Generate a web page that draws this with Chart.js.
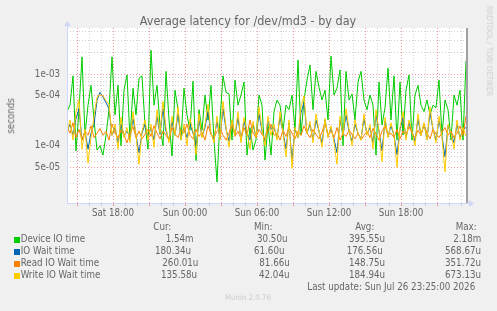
<!DOCTYPE html>
<html><head><meta charset="utf-8">
<script src="https://cdn.jsdelivr.net/npm/chart.js@4/dist/chart.umd.min.js"></script>
<style>
html,body{margin:0;padding:0;background:#F0F0F0;}
#wrap{position:relative;width:497px;height:311px;overflow:hidden;background:#F0F0F0;}
#c{position:absolute;left:0;top:0;}
.t{position:absolute;white-space:pre;font-family:'DejaVu Sans Condensed','DejaVu Sans',sans-serif;font-stretch:condensed;color:#666;line-height:1;}
.sq{position:absolute;width:6px;height:6px;}
</style></head><body>
<div id="wrap"><canvas id="c" width="497" height="311"></canvas><div id="txt"></div></div>
<script>
// ---- time axis (hours since Sat 00:00), 15-minute samples ----
const startHour = 14 + 10/60;   // Sat 14:10
const stepHours = 0.25;
const endHour = 47.5;           // Sun 23:30

// ---- series values in microseconds ----
const deviceIO = [300,370,950,85,320,1750,140,370,700,230,
87,100,74,140,320,1750,270,700,100,600,
980,120,640,270,880,950,195,90,2180,370,
700,195,100,1100,230,72,600,320,120,640,
270,165,800,62,320,165,513,230,700,120,
31,230,950,560,530,120,830,370,513,780,
74,180,87,120,513,370,63,195,74,300,
437,370,165,370,320,513,165,1585,141,437,
830,1350,320,1100,660,437,600,230,1800,513,
640,1150,100,1100,437,530,230,780,1100,437,
320,513,370,74,780,195,340,1220,230,950,
120,780,141,600,980,120,513,700,370,300,
437,270,370,340,830,141,437,320,120,513,
370,600,120,1540];
const ioWait = [160,200,140,240,330,120,160,90,150,200,
430,560,480,400,330,140,180,110,200,140,
160,130,240,140,80,150,200,130,180,120,
260,145,330,160,120,220,140,280,130,180,
130,200,150,100,230,135,180,300,145,125,
220,125,330,170,115,220,140,250,120,220,
150,120,200,130,280,160,115,220,170,180,
130,250,155,90,210,62,170,130,290,400,
150,200,120,230,160,110,230,135,175,125,
80,230,140,270,160,115,200,150,125,240,
145,180,110,270,160,85,220,135,190,140,
75,170,250,130,210,155,115,240,140,200,
125,290,170,120,230,135,70,190,150,110,
200,130,170,180];
const readWait = [180,150,210,130,170,120,160,140,190,130,
150,175,140,160,120,200,150,130,165,140,
110,150,185,130,160,125,145,170,135,190,
150,125,160,140,120,180,145,130,165,150,
200,140,125,170,135,155,120,190,145,130,
160,175,140,120,150,210,135,160,125,180,
140,230,150,130,170,145,125,160,200,140,
150,120,165,135,180,150,125,160,140,190,
150,130,170,145,125,155,210,140,160,130,
180,120,150,135,165,145,125,150,120,140,
160,130,175,145,120,160,190,140,150,130,
170,125,160,140,185,150,130,165,140,200,
150,125,170,145,130,155,180,140,160,130,
150,190,140,260];
const writeWait = [150,230,120,300,440,90,170,57,130,260,
480,520,500,430,380,140,200,90,250,130,
180,110,300,140,55,160,230,120,200,95,
320,150,420,180,110,260,140,350,120,200,
100,240,160,75,280,130,200,380,150,110,
260,120,420,180,95,230,140,300,110,250,
160,90,220,130,350,170,100,260,140,200,
120,300,150,70,230,48,180,130,350,500,
150,220,110,280,160,95,240,130,190,110,
55,260,140,330,170,100,230,150,120,280,
140,200,90,320,160,60,250,130,210,140,
50,180,300,120,230,160,100,280,140,210,
120,350,170,110,260,130,43,200,150,90,
230,120,180,136];

const seriesNames = ['Device IO time','IO Wait time','Read IO Wait time','Write IO Wait time'];
const seriesColors = ['#00CC00','#0066B3','#FF8000','#FFCC00'];
const curVals = ['1.54m','180.34u','260.01u','135.58u'];
const minVals = ['30.50u','61.60u','81.66u','42.04u'];
const avgVals = ['395.55u','176.56u','148.75u','184.94u'];
const maxVals = ['2.18m','568.67u','351.72u','673.13u'];

// ---- tick labels ----
const yTickValues = [5e-5, 1e-4, 5e-4, 1e-3];
const yTickText = ['5e-05','1e-04','5e-04','1e-03'];
const xTickHours = [18, 24, 30, 36, 42];
const xTickText = ['Sat 18:00','Sun 00:00','Sun 06:00','Sun 12:00','Sun 18:00'];

const yMin = 1.58e-5, yMax = 4.45e-3;
const FAM = "'DejaVu Sans Condensed', 'DejaVu Sans', sans-serif";
const GRID = 'rgba(140,140,140,0.38)';
const MGRID = 'rgba(235,70,70,0.55)';

function toPts(arr){ return arr.map((v,i)=>({x:startHour+i*stepHours, y:v*1e-6})); }

const yGrid = [];
for (let e=-5; e<=-3; e++) for (let m=1; m<=9; m++){ const v=m*Math.pow(10,e); if (v>=yMin && v<=yMax) yGrid.push(v); }
const xGrid = [];
for (let h=Math.ceil(startHour); h<=endHour; h++) xGrid.push(h);

function near(a,b){ return Math.abs(a-b) <= Math.abs(b)*1e-6; }
function isMajorY(v){ return yTickValues.some(t=>near(v,t)); }

const orders = [4,3,2,1];
const datasets = [deviceIO, ioWait, readWait, writeWait].map((arr,k)=>({
  label: seriesNames[k], data: toPts(arr), borderColor: seriesColors[k], backgroundColor: seriesColors[k],
  borderWidth: 1, pointRadius: 0, tension: 0, order: orders[k]
}));

const deco = {
  id:'deco',
  beforeDraw(chart){
    const {ctx, chartArea:a} = chart;
    ctx.save(); ctx.fillStyle='#FFFFFF'; ctx.fillRect(a.left, a.top, a.right-a.left, a.bottom-a.top); ctx.restore();
  },
  afterDraw(chart){
    const {ctx, chartArea:a} = chart;
    ctx.save();
    ctx.strokeStyle='#A0A0A0'; ctx.lineWidth=2;
    ctx.beginPath(); ctx.moveTo(a.right, a.top); ctx.lineTo(a.right, a.bottom); ctx.stroke();
    ctx.strokeStyle='#CFD6F8'; ctx.fillStyle='#CFD6F8'; ctx.lineWidth=1;
    ctx.beginPath(); ctx.moveTo(a.left+0.5, a.bottom); ctx.lineTo(a.left+0.5, a.top-2); ctx.stroke();
    ctx.beginPath(); ctx.moveTo(a.left, a.bottom+0.5); ctx.lineTo(a.right+2, a.bottom+0.5); ctx.stroke();
    ctx.beginPath(); ctx.moveTo(a.left+0.5, a.top-7); ctx.lineTo(a.left-3, a.top-2); ctx.lineTo(a.left+4, a.top-2); ctx.closePath(); ctx.fill();
    ctx.beginPath(); ctx.moveTo(a.right+7, a.bottom+0.5); ctx.lineTo(a.right+2, a.bottom-3); ctx.lineTo(a.right+2, a.bottom+4); ctx.closePath(); ctx.fill();
    ctx.restore();
  }
};

new Chart(document.getElementById('c'), {
  type:'line',
  data:{ datasets },
  options:{
    responsive:false, animation:false, devicePixelRatio:1,
    layout:{ padding:{ left:0, right:30, top:28, bottom:88 } },
    plugins:{ legend:{display:false}, title:{display:false}, tooltip:{enabled:false} },
    elements:{ line:{ borderWidth:1 } },
    scales:{
      x:{ type:'linear', min:startHour, max:endHour, bounds:'data',
        afterBuildTicks: s => { s.ticks = xGrid.map(v=>({value:v})); },
        afterFit: s => { s.height = 20; },
        ticks:{ autoSkip:false, maxRotation:0, minRotation:0, padding:2, color:'#666', font:{family:FAM, size:9.7},
          callback: v => { const i = xTickHours.indexOf(v); return i>=0 ? xTickText[i] : ''; } },
        grid:{ color: c => (c.tick && c.tick.value%3===0) ? MGRID : GRID, lineWidth:1, drawTicks:true, tickLength:3,
          tickColor: c => (c.tick && c.tick.value%3===0) ? MGRID : GRID },
        border:{ display:false, dash:[1,2] }
      },
      y:{ type:'logarithmic', min:yMin, max:yMax, bounds:'data',
        afterBuildTicks: s => { s.ticks = yGrid.map(v=>({value:v})); },
        afterFit: s => { s.width = 67; },
        ticks:{ autoSkip:false, padding:7, color:'#666', font:{family:FAM, size:9.7},
          callback: v => { const i = yTickValues.findIndex(t=>near(v,t)); return i>=0 ? yTickText[i] : ''; } },
        grid:{ color: c => (c.tick && isMajorY(c.tick.value)) ? MGRID : GRID, lineWidth:1, drawTicks:false },
        border:{ display:false, dash:[1,2] }
      }
    }
  },
  plugins:[deco]
});

// ---- text ----
const txt = document.getElementById('txt');
function put(text, x, baseline, size, o){
  o = o || {};
  const d = document.createElement('div'); d.className='t'; d.textContent=text;
  d.style.fontSize = size+'px';
  d.style.top = (baseline - 0.846*size)+'px';
  d.style.left = x+'px';
  if (o.center) d.style.transform='translateX(-50%)';
  if (o.color) d.style.color=o.color;
  txt.appendChild(d); return d;
}
function putRot(text, cx, cy, size, deg, color){
  const d = document.createElement('div'); d.className='t'; d.textContent=text;
  d.style.fontSize=size+'px'; d.style.left=cx+'px'; d.style.top=(cy - size/2)+'px';
  d.style.transform='translateX(-50%) rotate('+deg+'deg)'; d.style.transformOrigin='50% 50%';
  if (color) d.style.color=color;
  txt.appendChild(d);
}
put('Average latency for /dev/md3 - by day', 248, 26, 12.5, {center:true});
putRot('seconds', 11, 115.5, 9.7, -90);
putRot('RRDTOOL / TOBI OETIKER', 488.5, 51, 7.8, 90, '#CCCCCC');

const LS = 9.7;
const rowBase = [242.5, 254.5, 266.5, 278.5];
put('Cur:', 153.3, 230.5, LS); put('Min:', 254, 230.5, LS); put('Avg:', 355.3, 230.5, LS); put('Max:', 455.7, 230.5, LS);
const curX = [165.7,155,162.3,161], minX=[257,254,259.3,259], avgX=[349,346.7,349,349], maxX=[453.3,445,445,445];
for (let k=0;k<4;k++){
  const sq = document.createElement('div'); sq.className='sq'; sq.style.background=seriesColors[k];
  sq.style.left='14px'; sq.style.top=(rowBase[k]-6)+'px'; txt.appendChild(sq);
  put(seriesNames[k], 20.7, rowBase[k], LS);
  put(curVals[k], curX[k], rowBase[k], LS);
  put(minVals[k], minX[k], rowBase[k], LS);
  put(avgVals[k], avgX[k], rowBase[k], LS);
  put(maxVals[k], maxX[k], rowBase[k], LS);
}
put('Last update: Sun Jul 26 23:25:00 2026', 307.3, 290.5, LS);
put('Munin 2.0.76', 248, 301, 7.8, {center:true, color:'#CCCCCC'});
</script>
</body></html>
